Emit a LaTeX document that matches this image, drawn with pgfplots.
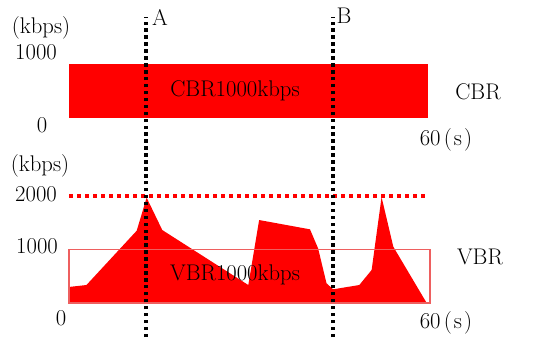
\documentclass[border=0pt]{standalone}
\usepackage{pgfplots}
\pgfplotsset{compat=1.18}
\definecolor{pureRed}{RGB}{255,0,0}
\definecolor{boxRed}{RGB}{238,95,95}
\begin{document}
\begin{tikzpicture}[x=0.75pt,y=0.75pt]
\useasboundingbox (0,0) rectangle (543,357);
\tikzset{lab/.style={font=\fontsize{17}{20}\selectfont, inner sep=0pt}}
% upper axis: CBR
\begin{axis}[name=cbr, at={(51.75pt,179.25pt)}, anchor=south west,
  scale only axis, width=270.75pt, height=40.5pt,
  xmin=0, xmax=60, ymin=0, ymax=1000, hide axis, clip=false]
  \addplot[fill=pureRed, draw=none] coordinates {(0,0) (59.7,0) (59.7,1000) (0,1000)} -- cycle;
\end{axis}
% lower axis: VBR
\begin{axis}[name=vbr, at={(51.75pt,40.5pt)}, anchor=south west,
  scale only axis, width=270.75pt, height=80.25pt,
  xmin=0, xmax=60, ymin=0, ymax=2000, hide axis, clip=false]
  \addplot[fill=pureRed, draw=none] coordinates {
    (0,0) (0,300) (2.9,336) (11.25,1351) (12.9,1970) (15.5,1364)
    (29.8,336) (31.6,1551) (40.05,1377) (41.4,1022) (42.8,368)
    (43.9,256) (48.25,336) (50.3,617) (51.95,1980) (53.9,1052)
    (59.45,0)} -- cycle;
  \addplot[boxRed, line width=1.2pt] coordinates {(0,0) (60,0) (60,1000) (0,1000)} -- cycle;
  \addplot[pureRed, line width=2.3pt, dash pattern=on 3pt off 3pt] coordinates {(0,2000) (59.2,2000)};
  \addplot[black, line width=2.6pt, dash pattern=on 2.6pt off 2.6pt] coordinates {(12.8,-636) (12.8,5346)};
  \addplot[black, line width=2.6pt, dash pattern=on 2.6pt off 2.6pt] coordinates {(43.9,-636) (43.9,5346)};
\end{axis}
% text
\node[lab] at (41,329) {(kbps)};
\node[lab] at (36,305) {1000};
\node[lab] at (42,232) {0};
\node[lab] at (160,340) {A};
\node[lab] at (344,341) {B};
\node[lab] at (235,266) {CBR1000kbps};
\node[lab] at (478,265) {CBR};
\node[lab] at (446,217) {60\kern2.5pt(\kern1.5pt s\kern1.5pt)};
\node[lab] at (40,191) {(kbps)};
\node[lab] at (36,163) {2000};
\node[lab] at (37,111) {1000};
\node[lab] at (61,39) {0};
\node[lab] at (235,82) {VBR1000kbps};
\node[lab] at (480,100) {VBR};
\node[lab] at (446,34) {60\kern2.5pt(\kern1.5pt s\kern1.5pt)};
\end{tikzpicture}
\end{document}
